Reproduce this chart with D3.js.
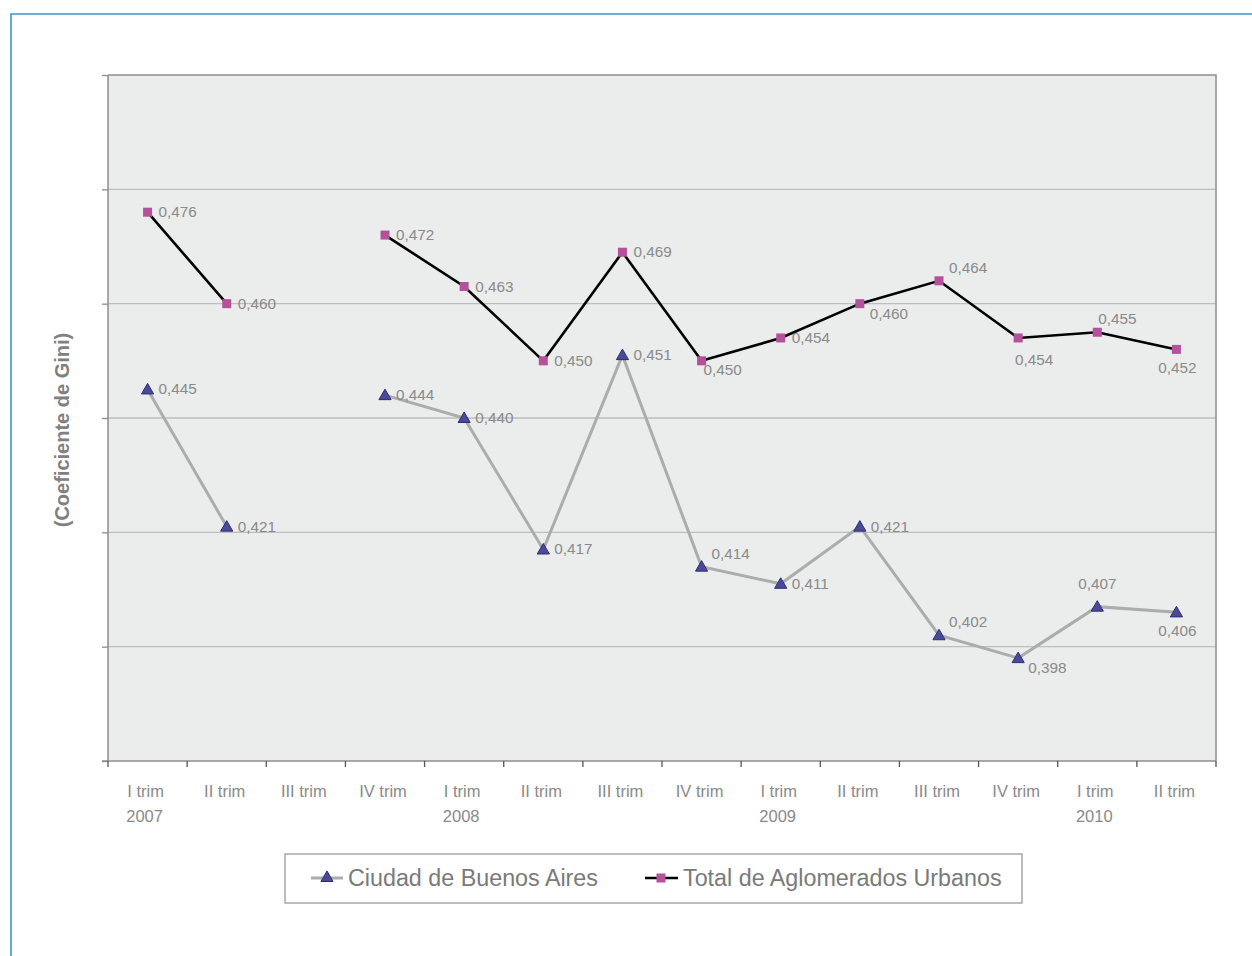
<!DOCTYPE html>
<html><head><meta charset="utf-8">
<script src="https://cdn.jsdelivr.net/npm/d3@7"></script>
<style>
html,body{margin:0;padding:0;background:#fff;}
svg{display:block;font-family:"Liberation Sans",Arial,sans-serif;}
</style></head>
<body>
<script>
// ---- data ----
const quarters = ["I trim","II trim","III trim","IV trim","I trim","II trim","III trim","IV trim","I trim","II trim","III trim","IV trim","I trim","II trim"];
const years    = ["2007","","","","2008","","","","2009","","","","2010",""];
const seriesNames = ["Ciudad de Buenos Aires","Total de Aglomerados Urbanos"];
const caba  = [0.445,0.421,null,0.444,0.440,0.417,0.451,0.414,0.411,0.421,0.402,0.398,0.407,0.406];
const total = [0.476,0.460,null,0.472,0.463,0.450,0.469,0.450,0.454,0.460,0.464,0.454,0.455,0.452];
// label placement codes (see offs below)
const cabaLabelPos  = ["r","r",null,"r","r","r","r","ar","r","r","ar","rb","a","b"];
const totalLabelPos = ["r","r",null,"r","r","r","r","br","r","rb","ar","bR","ra","b"];
const yDomain = [0.38,0.50];
const yTicks = [0.38,0.40,0.42,0.44,0.46,0.48,0.50];

// ---- layout ----
const W=1252,H=956;
const L=108,R=1216,T=75,B=761;
const svg=d3.select("body").append("svg").attr("width",W).attr("height",H);

// outer blue frame
svg.append("path").attr("d",`M11,${H+5} L11,14 L${W+5},14`).attr("fill","none")
  .attr("stroke","#3a97cc").attr("stroke-width",1.6);

const x=d3.scaleBand().domain(d3.range(quarters.length)).range([L,R]).paddingInner(0).paddingOuter(0);
const y=d3.scaleLinear().domain(yDomain).range([B,T]);
const cx=i=>x(i)+x.bandwidth()/2;

// plot background
svg.append("rect").attr("x",L).attr("y",T).attr("width",R-L).attr("height",B-T).attr("fill","#ebecec");

// gridlines
svg.append("g").selectAll("line").data(yTicks.filter(v=>v>yDomain[0]&&v<yDomain[1])).join("line")
  .attr("x1",L).attr("x2",R).attr("y1",d=>y(d)).attr("y2",d=>y(d))
  .attr("stroke","#bdbebe").attr("stroke-width",1.3);

// plot border (top/right)
svg.append("path").attr("d",`M${L},${T} L${R},${T} L${R},${B}`).attr("fill","none")
  .attr("stroke","#8e8e8e").attr("stroke-width",1.5);

// y axis (ticks only, no labels)
const yAxis=d3.axisLeft(y).tickValues(yTicks).tickSize(6).tickFormat("");
const gy=svg.append("g").attr("transform",`translate(${L},0)`).call(yAxis);
gy.select(".domain").attr("stroke","#8e8e8e").attr("stroke-width",1.5).attr("d",`M0,${T}V${B}`);
gy.selectAll(".tick line").attr("stroke","#8e8e8e").attr("stroke-width",1.3);

// x axis
const gx=svg.append("g").attr("transform",`translate(0,${B})`);
gx.append("line").attr("x1",L-6).attr("x2",R).attr("y1",0).attr("y2",0).attr("stroke","#8e8e8e").attr("stroke-width",1.5);
const bounds=d3.range(quarters.length+1).map(i=>i<quarters.length?x(i):R);
gx.selectAll("line.tk").data(bounds).join("line").attr("class","tk")
  .attr("x1",d=>d).attr("x2",d=>d).attr("y1",0).attr("y2",6).attr("stroke","#555").attr("stroke-width",1.3);
gx.selectAll("text.q").data(quarters).join("text").attr("class","q")
  .attr("x",(d,i)=>cx(i)-2).attr("y",36).attr("text-anchor","middle")
  .attr("font-size",16.5).attr("fill","#8a8a8a").text(d=>d);
gx.selectAll("text.yr").data(years).join("text").attr("class","yr")
  .attr("x",(d,i)=>cx(i)-3).attr("y",61).attr("text-anchor","middle")
  .attr("font-size",16.5).attr("fill","#8a8a8a").text(d=>d);

// y title
svg.append("text").attr("transform","translate(69,430) rotate(-90)").attr("text-anchor","middle")
  .attr("font-size",20).attr("font-weight","bold").attr("fill","#808080").text("(Coeficiente de Gini)");

// lines
function drawLine(vals,color,width){
  const line=d3.line().defined(d=>d!=null).x((d,i)=>cx(i)).y(d=>y(d));
  svg.append("path").datum(vals).attr("d",line).attr("fill","none")
    .attr("stroke",color).attr("stroke-width",width).attr("stroke-linejoin","miter");
}
drawLine(caba,"#acacac",3);
drawLine(total,"#000",2.6);

const tri=d3.symbol().type(d3.symbolTriangle).size(64);
function triangle(g,xx,yy){
  g.append("path").attr("d",tri()).attr("transform",`translate(${xx},${yy+1})`)
    .attr("fill","#4a4a96").attr("stroke","#2d2d78").attr("stroke-width",1);
}
function square(g,xx,yy){
  g.append("rect").attr("x",xx-4.5).attr("y",yy-4.5).attr("width",9).attr("height",9).attr("fill","#b5509a");
}
const mk=svg.append("g");
caba.forEach((v,i)=>{ if(v!=null) triangle(mk,cx(i),y(v)); });
total.forEach((v,i)=>{ if(v!=null) square(mk,cx(i),y(v)); });

// data labels
const fmt=v=>d3.format(".3f")(v).replace(".",",");
const offs={r:[11,5,"start"],rb:[10,15,"start"],br:[2,14,"start"],ar:[10,-8,"start"],
            a:[0,-18,"middle"],ra:[20,-8,"middle"],b:[1,24,"middle"],bR:[16,27,"middle"]};
function labels(vals,pos){
  vals.forEach((v,i)=>{
    if(v==null) return;
    const o=offs[pos[i]];
    svg.append("text").attr("x",cx(i)+o[0]).attr("y",y(v)+o[1]).attr("text-anchor",o[2])
      .attr("font-size",15.3).attr("fill","#8a8a8a").text(fmt(v));
  });
}
labels(caba,cabaLabelPos);
labels(total,totalLabelPos);

// legend
const lg=svg.append("g");
lg.append("rect").attr("x",285).attr("y",854).attr("width",737).attr("height",49)
  .attr("fill","#fff").attr("stroke","#9a9a9a").attr("stroke-width",1.3);
lg.append("line").attr("x1",311).attr("x2",343).attr("y1",878).attr("y2",878).attr("stroke","#acacac").attr("stroke-width",3);
triangle(lg,327,877);
lg.append("text").attr("x",348).attr("y",886).attr("font-size",23.3).attr("fill","#7a7a7a").text(seriesNames[0]);
lg.append("line").attr("x1",645).attr("x2",678).attr("y1",878).attr("y2",878).attr("stroke","#000").attr("stroke-width",2.6);
square(lg,661,878);
lg.append("text").attr("x",683).attr("y",886).attr("font-size",23.3).attr("fill","#7a7a7a").text(seriesNames[1]);
</script>
</body></html>
